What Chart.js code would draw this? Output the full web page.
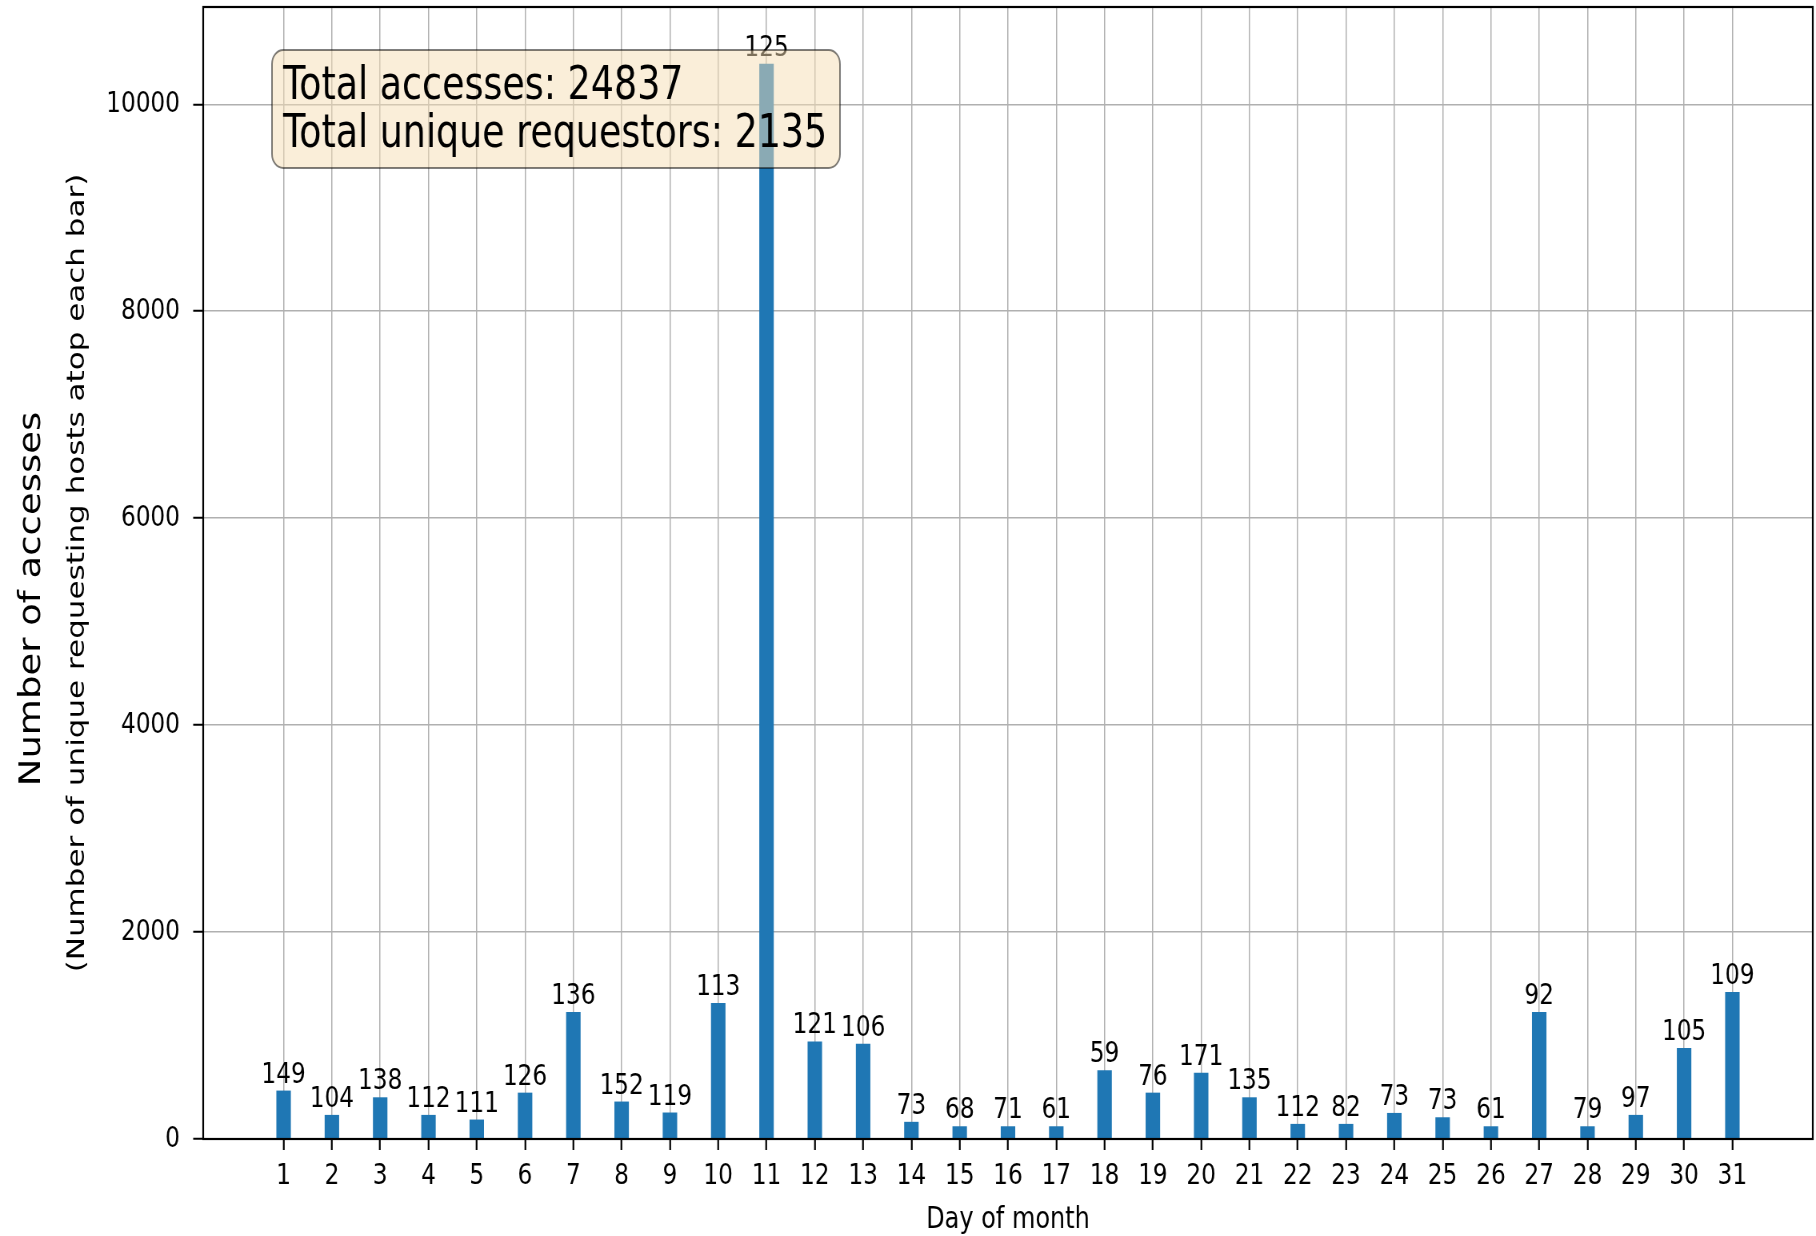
<!DOCTYPE html>
<html>
<head>
<meta charset="utf-8">
<script src="https://cdn.jsdelivr.net/npm/chart.js@4.4.1/dist/chart.umd.min.js"></script>
<style>
  html, body { margin: 0; padding: 0; background: #ffffff; overflow: hidden; width: 1816px; height: 1236px; }
  #wrap { width: 2270px; height: 1236px; transform: scale(0.8, 1); transform-origin: 0 0; }
  #c { display: block; }
</style>
</head>
<body>
<div id="wrap"><canvas id="c" width="2270" height="1236"></canvas></div>
<script>
// ---- data ----
const days = [1,2,3,4,5,6,7,8,9,10,11,12,13,14,15,16,17,18,19,20,21,22,23,24,25,26,27,28,29,30,31];
const accesses = [468,233,403,233,188,448,1227,362,256,1314,10392,943,921,166,123,123,123,664,448,641,403,146,146,252,210,123,1227,123,233,880,1420];
const uniqueHosts = [149,104,138,112,111,126,136,152,119,113,125,121,106,73,68,71,61,59,76,171,135,112,82,73,73,61,92,79,97,105,109];
const yTickValues = [0,2000,4000,6000,8000,10000];
const totalAccesses = 24837;
const totalUnique = 2135;
const xTitle = 'Day of month';
const yTitle = 'Number of accesses';
const ySubTitle = '(Number of unique requesting hosts atop each bar)';

const FAMILY = "'DejaVu Sans', sans-serif";

const decor = {
  id: 'decor',
  afterDatasetsDraw(chart) {
    const ctx = chart.ctx;
    const a = chart.chartArea;
    ctx.save();
    // labels atop bars
    const meta = chart.getDatasetMeta(0);
    ctx.font = '29px ' + FAMILY;
    ctx.fillStyle = '#000';
    ctx.textAlign = 'center';
    ctx.textBaseline = 'alphabetic';
    meta.data.forEach((el, i) => {
      ctx.fillText(String(uniqueHosts[i]), el.x, el.y - 8);
    });
    // frame
    ctx.strokeStyle = '#000';
    ctx.lineWidth = 2.2;
    ctx.strokeRect(a.left, a.top, a.right - a.left, a.bottom - a.top);
    // y titles (rotated)
    const midY = (a.top + a.bottom) / 2;
    ctx.save();
    ctx.translate(50, midY + 26);
    ctx.rotate(-Math.PI / 2);
    ctx.font = '37px ' + FAMILY;
    ctx.textAlign = 'center';
    ctx.textBaseline = 'alphabetic';
    ctx.fillText(yTitle, 0, 0);
    ctx.restore();
    ctx.save();
    ctx.translate(105, midY);
    ctx.rotate(-Math.PI / 2);
    ctx.font = '31px ' + FAMILY;
    ctx.textAlign = 'center';
    ctx.textBaseline = 'alphabetic';
    ctx.fillText(ySubTitle, 0, 0);
    ctx.restore();
    // text box
    ctx.font = '45.5px ' + FAMILY;
    const l1 = 'Total accesses: ' + totalAccesses;
    const l2 = 'Total unique requestors: ' + totalUnique;
    const tx = a.left + 100;
    const w = Math.max(ctx.measureText(l1).width, ctx.measureText(l2).width);
    const bx = tx - 14, by = a.top + 43, bw = w + 30, bh = 118;
    ctx.beginPath();
    ctx.roundRect(bx, by, bw, bh, 14);
    ctx.fillStyle = 'rgba(245,222,179,0.5)';
    ctx.fill();
    ctx.strokeStyle = 'rgba(0,0,0,0.5)';
    ctx.lineWidth = 2;
    ctx.stroke();
    ctx.fillStyle = '#000';
    ctx.textAlign = 'left';
    ctx.fillText(l1, tx, a.top + 92);
    ctx.fillText(l2, tx, a.top + 140);
    ctx.restore();
  }
};

new Chart(document.getElementById('c'), {
  type: 'bar',
  data: {
    labels: days,
    datasets: [{
      data: accesses,
      backgroundColor: '#1f77b4',
      borderWidth: 0,
      barPercentage: 0.3,
      categoryPercentage: 1
    }]
  },
  options: {
    responsive: false,
    animation: false,
    devicePixelRatio: 1,
    layout: { padding: { top: 7, right: 4, left: 0, bottom: 0 } },
    plugins: { legend: { display: false }, tooltip: { enabled: false } },
    scales: {
      x: {
        type: 'linear',
        min: -0.665,
        max: 32.665,
        bounds: 'data',
        offset: false,
        afterBuildTicks: s => { s.ticks = days.map(v => ({ value: v })); },
        afterFit: s => { s.height = 97; s.paddingLeft = 0; s.paddingRight = 0; },
        grid: { offset: false, color: '#b0b0b0', lineWidth: 1.5, drawTicks: true, tickLength: 11, tickColor: '#000', tickWidth: 2.2 },
        border: { display: false },
        ticks: { font: { family: FAMILY, size: 29 }, color: '#000', padding: 9, maxRotation: 0, autoSkip: false, callback: v => String(v) },
        title: { display: true, text: xTitle, font: { family: FAMILY, size: 30 }, color: '#000', padding: { top: 0, bottom: -2 } }
      },
      y: {
        min: 0,
        max: 10940,
        afterBuildTicks: s => { s.ticks = yTickValues.map(v => ({ value: v })); },
        afterFit: s => { s.width = 254; s.paddingTop = 0; s.paddingBottom = 0; },
        grid: { color: '#b0b0b0', lineWidth: 1.5, drawTicks: true, tickLength: 12.5, tickColor: '#000', tickWidth: 2 },
        border: { display: false },
        ticks: { font: { family: FAMILY, size: 29 }, color: '#000', padding: 16.5, callback: v => String(v) }
      }
    }
  },
  plugins: [decor]
});
</script>
</body>
</html>
